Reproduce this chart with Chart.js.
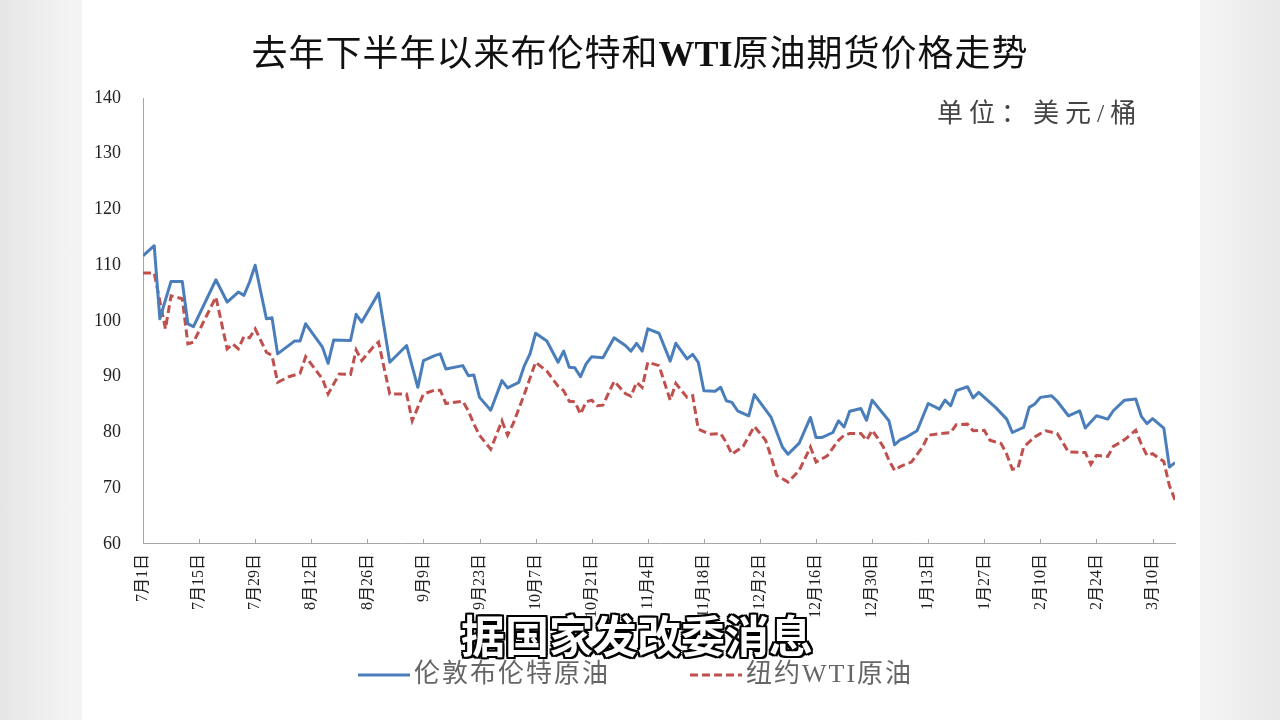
<!DOCTYPE html>
<html lang="zh">
<head>
<meta charset="utf-8">
<title>去年下半年以来布伦特和WTI原油期货价格走势</title>
<script src="https://cdn.jsdelivr.net/npm/chart.js@4.4.1/dist/chart.umd.min.js"></script>
<style>
    html, body { margin: 0; padding: 0; }
    body {
        width: 1280px; height: 720px; overflow: hidden; position: relative;
        background: linear-gradient(90deg, #e6e6e6 0, #f3f3f3 70px, #f3f3f3 1210px, #e8e8e8 1280px);
        font-family: "Liberation Serif", "Noto Sans CJK SC", serif;
    }
    .panel { position: absolute; left: 82px; top: 0; width: 1118px; height: 720px; background: #fff; }
    .chartbox { position: absolute; left: 0; top: 0; width: 1280px; height: 720px; }
    .title {
        position: absolute; left: 0; width: 1280px; top: 24px; text-align: center;
        font-size: 36px; font-weight: 400; color: #111; letter-spacing: 1px;
    }
    .title b { font-weight: bold; letter-spacing: 0; }
    .unit {
        position: absolute; left: 937px; top: 92px;
        font-size: 26px; color: #444; letter-spacing: 6px;
    }
    .caption {
        position: absolute; left: 0; width: 1274px; top: 602px; text-align: center;
        font-family: "Noto Sans CJK SC", sans-serif; font-weight: 700; font-size: 44px; color: #fff;
        text-shadow: 2px 0 0 #000, -2px 0 0 #000, 0 2px 0 #000, 0 -2px 0 #000,
                     2px 2px 0 #000, -2px -2px 0 #000, 2px -2px 0 #000, -2px 2px 0 #000,
                     0 0 6px #fff;
    }
</style>
</head>
<body>
<div class="panel"></div>
<div class="chartbox"><canvas id="oilChart"></canvas></div>
<div class="title">去年下半年以来布伦特和<b>WTI</b>原油期货价格走势</div>
<div class="unit">单位：美元/桶</div>
<div class="caption">据国家发改委消息</div>

<script>
// x axis labels, one every 10 trading days
const tickLabels = ['7月1日', '7月15日', '7月29日', '8月12日', '8月26日', '9月9日', '9月23日',
    '10月7日', '10月21日', '11月4日', '11月18日', '12月2日', '12月16日', '12月30日',
    '1月13日', '1月27日', '2月10日', '2月24日', '3月10日'];

// Brent: trading day index and price (USD/bbl)
const brentDay = [0, 2, 3, 5, 7, 8, 9, 13, 15, 17, 18, 19, 20, 22, 23, 24, 27, 28, 29, 32,
    33, 34, 37, 38, 39, 42, 44, 47, 49, 50, 52, 53, 54, 57, 58, 59, 60, 62, 64, 65,
    67, 68, 69, 70, 72, 74, 75, 76, 77, 78, 79, 80, 82, 84, 86, 87, 88, 89, 90, 92,
    94, 95, 97, 98, 99, 100, 102, 103, 104, 105, 106, 108, 109, 112, 114, 115, 117, 119, 120, 121,
    123, 124, 125, 126, 128, 129, 130, 133, 134, 135, 136, 138, 140, 142, 143, 144, 145, 147, 148, 149,
    152, 154, 155, 157, 158, 159, 160, 162, 163, 165, 167, 168, 170, 172, 173, 175, 177, 178, 179, 180,
    182, 183, 184];
const brentPrice = [111.7, 113.5, 100.4, 107.1, 107.1, 99.5, 99.0, 107.4, 103.4, 105.2, 104.6, 107.0, 110.0, 100.4, 100.6, 94.1, 96.4, 96.4, 99.5, 95.3,
    92.4, 96.6, 96.5, 101.2, 99.8, 105.0, 92.6, 95.6, 88.1, 92.9, 93.8, 94.1, 91.4, 92.0, 90.2, 90.3, 86.3, 84.0, 89.3, 88.0,
    89.0, 92.0, 94.1, 97.8, 96.4, 92.6, 94.6, 91.7, 91.6, 90.0, 92.3, 93.6, 93.4, 97.0, 95.6, 94.6, 96.0, 94.6, 98.6, 97.8,
    92.8, 96.0, 93.2, 94.0, 92.6, 87.5, 87.4, 88.1, 85.7, 85.4, 83.9, 83.0, 86.8, 82.7, 77.4, 76.1, 78.1, 82.7, 79.1, 79.1,
    80.0, 82.1, 81.0, 83.8, 84.3, 82.2, 85.8, 82.1, 77.8, 78.7, 79.1, 80.3, 85.2, 84.2, 85.8, 84.8, 87.5, 88.2, 86.2, 87.2,
    84.5, 82.4, 80.0, 80.9, 84.5, 85.1, 86.3, 86.6, 85.6, 83.0, 83.9, 80.8, 83.0, 82.4, 83.9, 85.8, 86.0, 82.9, 81.6, 82.5,
    80.8, 73.8, 74.6];

// WTI: trading day index and price (USD/bbl)
const wtiDay = [0, 2, 4, 5, 7, 8, 9, 13, 15, 16, 17, 18, 19, 20, 22, 23, 24, 26, 28, 29,
    32, 33, 35, 37, 38, 39, 41, 42, 44, 47, 48, 50, 52, 53, 54, 57, 58, 59, 60, 62,
    64, 65, 66, 68, 70, 72, 74, 75, 76, 77, 78, 79, 80, 81, 82, 84, 86, 87, 88, 89,
    90, 92, 94, 95, 97, 98, 99, 101, 103, 104, 105, 107, 109, 111, 112, 113, 115, 117, 119, 120,
    122, 124, 125, 126, 128, 129, 130, 131, 132, 133, 134, 135, 137, 139, 140, 142, 144, 145, 147, 148,
    150, 151, 152, 153, 154, 155, 156, 157, 159, 160, 161, 163, 164, 165, 168, 169, 170, 172, 173, 175,
    177, 178, 179, 180, 182, 183, 184];
const wtiPrice = [108.6, 108.6, 98.6, 104.5, 104.0, 95.9, 96.2, 104.3, 95.0, 95.9, 95.0, 97.2, 97.0, 98.6, 94.4, 93.8, 89.0, 90.0, 90.6, 93.6,
    89.6, 86.9, 90.5, 90.4, 94.8, 92.9, 95.3, 96.2, 86.9, 86.9, 82.1, 86.9, 87.6, 87.6, 85.2, 85.6, 83.9, 81.5, 79.5, 77.0,
    82.1, 79.5, 81.6, 86.9, 92.6, 91.0, 88.3, 87.5, 85.6, 85.5, 83.3, 85.5, 85.8, 84.8, 84.9, 89.2, 87.0, 86.5, 89.0, 88.1,
    92.6, 92.0, 85.8, 88.8, 86.3, 86.6, 80.6, 79.7, 79.8, 78.2, 76.1, 77.5, 81.1, 78.6, 75.6, 72.3, 71.1, 73.2, 77.4, 74.7,
    75.8, 78.6, 79.5, 79.8, 79.8, 78.6, 80.4, 79.0, 77.4, 75.0, 73.2, 73.9, 74.7, 77.4, 79.5, 79.8, 80.0, 81.4, 81.5, 80.3,
    80.4, 78.6, 78.3, 78.0, 76.1, 73.4, 73.6, 77.4, 79.2, 79.8, 80.3, 79.8, 78.2, 76.5, 76.4, 74.3, 75.9, 75.7, 77.5, 78.7,
    80.4, 77.9, 75.9, 76.2, 74.8, 70.5, 67.9];

const legendNames = ['伦敦布伦特原油', '纽约WTI原油'];

const axisColor = '#a6a6a6';
const labelFont = '"Liberation Serif", "Noto Sans CJK SC", serif';

function toPoints(days, prices) {
    return days.map((d, i) => ({ x: d, y: prices[i] }));
}

// small tick marks pointing into the plot, plus the legend under the axis
const extrasPlugin = {
    id: 'extras',
    afterDraw(chart) {
        const ctx = chart.ctx;
        const xs = chart.scales.x;
        const bottom = chart.chartArea.bottom;
        ctx.save();
        ctx.strokeStyle = axisColor;
        ctx.lineWidth = 1;
        xs.ticks.forEach(t => {
            const px = Math.round(xs.getPixelForValue(t.value)) + 0.5;
            ctx.beginPath();
            ctx.moveTo(px, bottom);
            ctx.lineTo(px, bottom - 5);
            ctx.stroke();
        });

        const starts = [358, 690];
        const y = 675;
        ctx.font = '26px ' + labelFont;
        ctx.textBaseline = 'middle';
        ctx.fillStyle = '#666';
        if ('letterSpacing' in ctx) ctx.letterSpacing = '2px';
        chart.data.datasets.forEach((ds, i) => {
            const x0 = starts[i];
            ctx.strokeStyle = ds.borderColor;
            ctx.lineWidth = ds.borderWidth;
            ctx.setLineDash(ds.borderDash || []);
            ctx.beginPath();
            ctx.moveTo(x0, y);
            ctx.lineTo(x0 + 52, y);
            ctx.stroke();
            ctx.setLineDash([]);
            ctx.fillText(legendNames[i], x0 + 56, y);
        });
        ctx.restore();
    }
};

const ctx = document.getElementById('oilChart').getContext('2d');
new Chart(ctx, {
    type: 'line',
    data: {
        datasets: [
            {
                label: legendNames[0],
                data: toPoints(brentDay, brentPrice),
                borderColor: '#4a7ebb',
                borderWidth: 3,
                borderJoinStyle: 'round',
                pointRadius: 0,
                tension: 0
            },
            {
                label: legendNames[1],
                data: toPoints(wtiDay, wtiPrice),
                borderColor: '#c0504d',
                borderWidth: 3,
                borderDash: [8, 4],
                pointRadius: 0,
                tension: 0
            }
        ]
    },
    options: {
        responsive: true,
        maintainAspectRatio: false,
        animation: false,
        layout: {
            padding: { left: 72, right: 105, top: 98, bottom: 92 }
        },
        plugins: {
            legend: { display: false },
            tooltip: { enabled: false }
        },
        scales: {
            x: {
                type: 'linear',
                min: 0,
                max: 184,
                grid: { display: false, drawTicks: false },
                border: { display: true, color: axisColor, width: 1 },
                ticks: {
                    stepSize: 10,
                    includeBounds: false,
                    autoSkip: false,
                    minRotation: 90,
                    maxRotation: 90,
                    padding: 10,
                    color: '#222',
                    font: { family: labelFont, size: 16 },
                    callback: function(value) {
                        return tickLabels[value / 10];
                    }
                }
            },
            y: {
                min: 60,
                max: 140,
                grid: { display: false, drawTicks: false },
                border: { display: true, color: axisColor, width: 1 },
                ticks: {
                    stepSize: 10,
                    padding: 22,
                    color: '#222',
                    font: { family: labelFont, size: 18 }
                }
            }
        }
    },
    plugins: [extrasPlugin]
});
</script>
</body>
</html>
